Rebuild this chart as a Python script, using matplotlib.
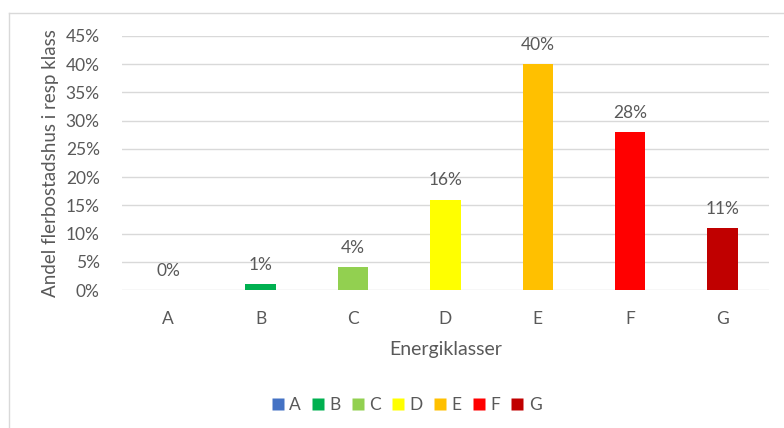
import matplotlib.pyplot as plt
from matplotlib.lines import Line2D

# Share of multi-family buildings per energy class
classes = ["A", "B", "C", "D", "E", "F", "G"]
shares = [0, 1, 4, 16, 40, 28, 11]
colors = ["#4472C4", "#00B050", "#92D050", "#FFFF00", "#FFC000", "#FF0000", "#C00000"]
yticks = [0, 5, 10, 15, 20, 25, 30, 35, 40, 45]

plt.rcParams['font.family'] = ['Lato', 'DejaVu Sans']
text_col = "#595959"

fig = plt.figure(figsize=(7.84, 4.28), dpi=100)
ax = fig.add_axes([0.1556, 0.3224, 0.825, 0.5935])

x = range(len(classes))
ax.bar(x, shares, width=0.33, color=colors, zorder=3)

for xi, v in zip(x, shares):
    ax.text(xi, v + 2.0, f"{v}%", ha="center", va="bottom",
            fontsize=12.5, color=text_col)

ax.set_xlim(-0.5, len(classes) - 0.5)
ax.set_ylim(0, 45)
ax.set_yticks(yticks)
ax.set_yticklabels([f"{t}%" for t in yticks])
ax.set_xticks(list(x))
ax.set_xticklabels(classes)
ax.tick_params(axis="both", length=0, labelsize=12.5, labelcolor=text_col)
ax.tick_params(axis="x", pad=15)
ax.tick_params(axis="y", pad=16)

ax.yaxis.grid(True, color="#D9D9D9", linewidth=1, zorder=0)
for s in ax.spines.values():
    s.set_visible(False)

ax.set_xlabel("Energiklasser", fontsize=14, color=text_col, labelpad=10)
ax.set_ylabel("Andel flerbostadshus i resp klass", fontsize=13.5, color=text_col, labelpad=5)

# legend with square markers
handles = [Line2D([], [], marker="s", linestyle="none", markersize=9,
                  markerfacecolor=c, markeredgecolor="none") for c in colors]
fig.legend(handles, classes, loc="center", bbox_to_anchor=(0.518, 0.054),
           ncol=len(classes), frameon=False, fontsize=12.5, labelcolor=text_col,
           handlelength=0.8, handletextpad=0.25, columnspacing=0.6)

# chart frame (left and top edges)
fig.add_artist(Line2D([8.5 / 784, 8.5 / 784], [0, 1 - 12.5 / 428],
                      transform=fig.transFigure, color="#D9D9D9", linewidth=1))
fig.add_artist(Line2D([8.5 / 784, 1], [1 - 12.5 / 428, 1 - 12.5 / 428],
                      transform=fig.transFigure, color="#D9D9D9", linewidth=1))

fig.savefig("out.png", dpi=100)
